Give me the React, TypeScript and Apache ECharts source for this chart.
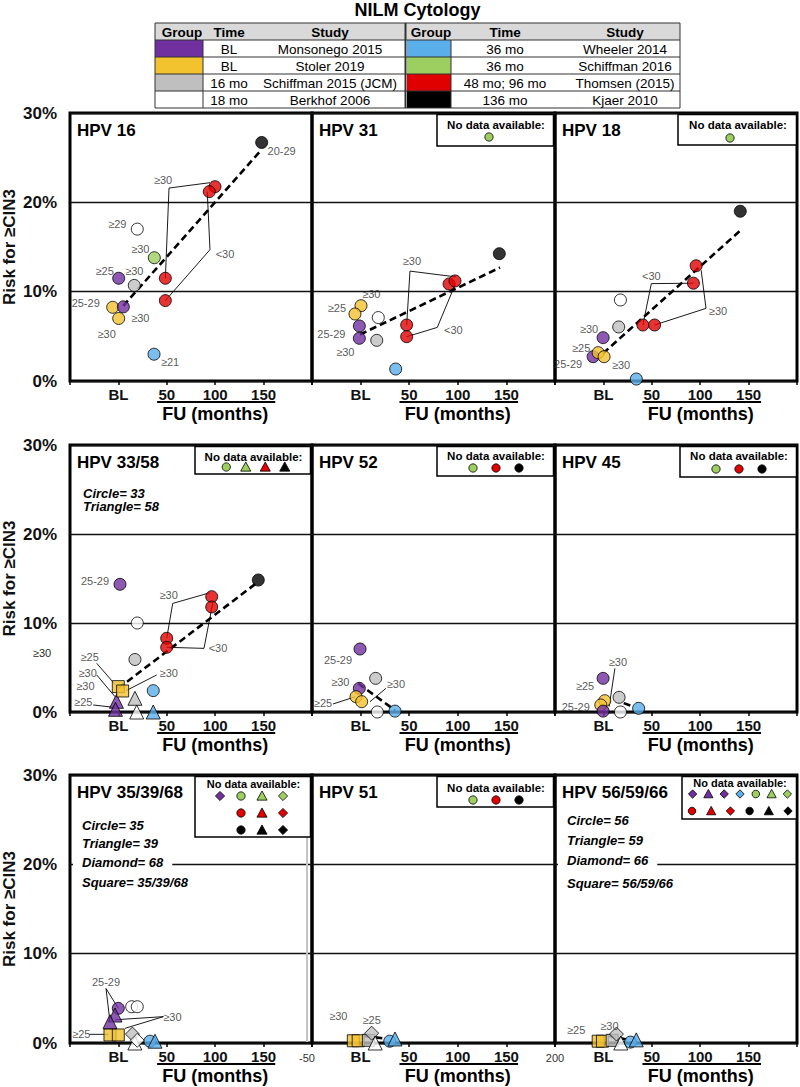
import React, { useEffect, useRef } from 'react';
import * as echarts from 'echarts';

const FONT = 'Arial, "Liberation Sans", Helvetica, sans-serif';

const GROUP_COLORS: Record<string, string> = {
  purple: '#7030a0',
  yellow: '#f3c22f',
  gray: '#bfbfbf',
  white: '#ffffff',
  blue: '#5aaeea',
  green: '#9ccf5f',
  red: '#e00000',
  black: '#000000',
};
const LABEL_COLOR = '#2a2a2a';

// ---------- table ----------
const tableTitle = 'NILM Cytology';
const tableHeaders = ['Group', 'Time', 'Study'];
const tableLeftGroups = ['purple', 'yellow', 'gray', 'white'];
const tableLeftTimes = ['BL', 'BL', '16 mo', '18 mo'];
const tableLeftStudies = ['Monsonego 2015', 'Stoler 2019', 'Schiffman 2015 (JCM)', 'Berkhof 2006'];
const tableRightGroups = ['blue', 'green', 'red', 'black'];
const tableRightTimes = ['36 mo', '36 mo', '48 mo; 96 mo', '136 mo'];
const tableRightStudies = ['Wheeler 2014', 'Schiffman 2016', 'Thomsen (2015)', 'Kjaer 2010'];

// ---------- axes ----------
const xTickLabels: Record<number, string> = { 0: 'BL', 50: '50', 100: '100', 150: '150' };
const xTitle = 'FU (months)';
const yTitle = 'Risk for ≥CIN3';

type Pt = [number, number, string, string, string]; // x, y, group, shape, label
type Leader = { path: [number, number][]; label: string; at: number };

// ---------- HPV 16 ----------
const hpv16Points: Pt[] = [
  [148, 26.7, 'black', 'circle', '20-29'],
  [99.8, 21.75, 'red', 'circle', ''],
  [93.9, 21.2, 'red', 'circle', ''],
  [19.5, 17.0, 'white', 'circle', '≥29'],
  [37.1, 13.8, 'green', 'circle', '≥30'],
  [0.3, 11.5, 'purple', 'circle', '≥25'],
  [16.4, 10.7, 'gray', 'circle', '≥30'],
  [48.5, 11.5, 'red', 'circle', ''],
  [48.5, 9.0, 'red', 'circle', ''],
  [-5.9, 8.25, 'yellow', 'circle', '25-29'],
  [5.1, 8.3, 'purple', 'circle', '≥30'],
  [0.3, 7.0, 'yellow', 'circle', '≥30'],
  [36.8, 3.0, 'blue', 'circle', '≥21'],
];
const hpv16LabelOffsets = [[20, 9], [0, 0], [0, 0], [-20, -5], [-14, -9], [-14, -7], [0, -14], [0, 0], [0, 0], [-27, -4], [17, 11], [-12, 16], [16, 8]];
const hpv16Trend: [number, number][] = [[5, 8.4], [146.3, 25.7]];
const hpv16Leaders: Leader[] = [
  { path: [[48.5, 11.5], [52.3, 21.6], [94.6, 22.2]], label: '≥30', at: 1 },
  { path: [[48.5, 9.0], [94.6, 14.7], [91.8, 21.2]], label: '<30', at: 1 },
];
const hpv16LeaderOffsets = [[-6, -8], [15, 4]];

// ---------- HPV 31 ----------
const hpv31Points: Pt[] = [
  [142.7, 14.25, 'black', 'circle', ''],
  [91, 10.86, 'red', 'circle', ''],
  [97.1, 11.2, 'red', 'circle', ''],
  [0.4, 8.43, 'yellow', 'circle', ''],
  [-5.8, 7.5, 'yellow', 'circle', '≥25'],
  [18.2, 7.1, 'white', 'circle', '≥30'],
  [-1.3, 6.16, 'purple', 'circle', '25-29'],
  [-1.3, 4.78, 'purple', 'circle', '≥30'],
  [16.6, 4.55, 'gray', 'circle', ''],
  [47.4, 6.27, 'red', 'circle', ''],
  [47.4, 4.96, 'red', 'circle', ''],
  [36.1, 1.34, 'blue', 'circle', ''],
];
const hpv31LabelOffsets = [[0, 0], [0, 0], [0, 0], [0, 0], [-18, -6], [-7, -24], [-28, 8], [-14, 14], [0, 0], [0, 0], [0, 0], [0, 0]];
const hpv31Trend: [number, number][] = [[-0.6, 5.2], [143.4, 12.7]];
const hpv31Leaders: Leader[] = [
  { path: [[47.4, 6.27], [50.8, 12.3], [98.1, 11.65]], label: '≥30', at: 1 },
  { path: [[47.4, 4.96], [78.9, 6.0], [97.1, 10.75]], label: '<30', at: 1 },
];
const hpv31LeaderOffsets = [[2, -10], [16, 3]];

// ---------- HPV 18 ----------
const hpv18Points: Pt[] = [
  [141.4, 19.0, 'black', 'circle', ''],
  [95.8, 12.9, 'red', 'circle', ''],
  [93, 10.95, 'red', 'circle', ''],
  [17.6, 9.07, 'white', 'circle', ''],
  [15.8, 6.05, 'gray', 'circle', ''],
  [40.8, 6.27, 'red', 'circle', ''],
  [52.9, 6.27, 'red', 'circle', ''],
  [-0.3, 4.85, 'purple', 'circle', '≥30'],
  [-10.6, 2.72, 'purple', 'circle', '25-29'],
  [-5.4, 3.17, 'yellow', 'circle', '≥25'],
  [0.7, 2.72, 'yellow', 'circle', '≥30'],
  [34, 0.22, 'blue', 'circle', ''],
];
const hpv18LabelOffsets = [[0, 0], [0, 0], [0, 0], [0, 0], [0, 0], [0, 0], [0, 0], [-14, -9], [-25, 7], [-17, -5], [17, 8], [0, 0]];
const hpv18Trend: [number, number][] = [[-0.3, 3.1], [142, 16.9]];
const hpv18Leaders: Leader[] = [
  { path: [[40.8, 6.27], [49.5, 10.9], [93, 10.95]], label: '<30', at: 1 },
  { path: [[52.9, 6.27], [106, 8.13], [101, 12.4]], label: '≥30', at: 1 },
];
const hpv18LeaderOffsets = [[0, -8], [12, 3]];

// ---------- HPV 33/58 ----------
const hpv3358Points: Pt[] = [
  [144.5, 14.83, 'black', 'circle', ''],
  [96.4, 12.96, 'red', 'circle', ''],
  [96.4, 11.8, 'red', 'circle', ''],
  [1.65, 14.35, 'purple', 'circle', '25-29'],
  [19.5, 10.0, 'white', 'circle', ''],
  [49.9, 8.28, 'red', 'circle', ''],
  [49.9, 7.27, 'red', 'circle', ''],
  [17.1, 5.9, 'gray', 'circle', ''],
  [36, 2.4, 'blue', 'circle', ''],
  [-2, 1.2, 'purple', 'triangle', '≥30'],
  [-3, 0.3, 'purple', 'triangle', ''],
  [17.1, 1.54, 'gray', 'triangle', ''],
  [18.9, 0, 'white', 'triangle', ''],
  [36, 0, 'blue', 'triangle', ''],
  [-0.1, 2.85, 'yellow', 'square', ''],
  [4.4, 2.36, 'yellow', 'square', ''],
];
const hpv3358LabelOffsets = [[0, 0], [0, 0], [0, 0], [-25, -3], [0, 0], [0, 0], [0, 0], [0, 0], [0, 0], [-31, -15], [0, 0], [0, 0], [0, 0], [0, 0], [0, 0], [0, 0]];
const hpv3358Trend: [number, number][] = [[-0.1, 2.66], [142.9, 14.5]];
const hpv3358Leaders: Leader[] = [
  { path: [[49.9, 8.28], [56.1, 12.2], [94.6, 13.4]], label: '≥30', at: 1 },
  { path: [[49.9, 7.27], [88.4, 7.15], [97.4, 12.2]], label: '<30', at: 1 },
  { path: [[-22.4, 5.47], [-3.5, 3.1]], label: '≥25', at: 0 },
  { path: [[39.6, 4.16], [7.9, 2.4]], label: '≥30', at: 0 },
  { path: [[-22.4, 4.16], [-3.5, 1.72]], label: '≥30', at: 0 },
  { path: [[-26, 0.79], [-5.3, 0.53]], label: '≥25', at: 0 },
];
const hpv3358LeaderOffsets = [[-4, -8], [14, 0], [-7, -6], [12, -2], [-9, -2], [-10, -3]];

// ---------- HPV 52 ----------
const hpv52Points: Pt[] = [
  [-0.6, 7.08, 'purple', 'circle', '25-29'],
  [15.5, 3.78, 'gray', 'circle', ''],
  [-1.3, 2.66, 'purple', 'circle', '≥30'],
  [-4.7, 1.72, 'yellow', 'circle', ''],
  [1.1, 1.16, 'yellow', 'circle', ''],
  [17.2, 0, 'white', 'circle', ''],
  [35.4, 0.1, 'blue', 'circle', ''],
];
const hpv52LabelOffsets = [[-22, 11], [0, 0], [-19, -6], [0, 0], [0, 0], [0, 0], [0, 0]];
const hpv52Trend: [number, number][] = [[-2.3, 3.2], [35.4, 0.2]];
const hpv52Leaders: Leader[] = [
  { path: [[-28.4, 0.9], [-5.8, 1.7]], label: '≥25', at: 0 },
  { path: [[26.1, 2.66], [9.7, 1.16]], label: '≥30', at: 0 },
];
const hpv52LeaderOffsets = [[-10, -1], [10, -4]];

// ---------- HPV 45 ----------
const hpv45Points: Pt[] = [
  [-0.3, 3.78, 'purple', 'circle', '≥25'],
  [16.2, 1.65, 'gray', 'circle', ''],
  [1.4, 1.27, 'yellow', 'circle', ''],
  [-2.7, 0.79, 'yellow', 'circle', '25-29'],
  [-0.3, 0.1, 'purple', 'circle', ''],
  [17.6, 0, 'white', 'circle', ''],
  [36.4, 0.41, 'blue', 'circle', ''],
];
const hpv45LabelOffsets = [[-18, 8], [0, 0], [0, 0], [-25, 2], [0, 0], [0, 0], [0, 0]];
const hpv45Trend: [number, number][] = [[21, 1.0], [31, 0.6]];
const hpv45Leaders: Leader[] = [
  { path: [[11.9, 4.9], [5.9, 0.6]], label: '≥30', at: 0 },
];
const hpv45LeaderOffsets = [[3, -6]];

// ---------- HPV 35/39/68 ----------
const hpv353968Points: Pt[] = [
  [-8.7, 0.9, 'yellow', 'square', ''],
  [-0.1, 0.9, 'yellow', 'square', ''],
  [-0.1, 3.88, 'purple', 'circle', ''],
  [-3.5, 3.13, 'purple', 'triangle', ''],
  [-8.7, 2.38, 'purple', 'triangle', ''],
  [13.7, 4.06, 'white', 'circle', ''],
  [19.5, 4.06, 'white', 'circle', ''],
  [14.5, 1.0, 'gray', 'diamond', ''],
  [17, 0, 'white', 'triangle', ''],
  [19.5, 0.3, 'white', 'diamond', ''],
  [32.6, 0.2, 'blue', 'circle', ''],
  [37.8, 0.2, 'blue', 'triangle', ''],
];
const hpv353968LabelOffsets = hpv353968Points.map(() => [0, 0]);
const hpv353968Leaders: Leader[] = [
  { path: [[-0.1, 3.88], [-12.8, 6.1], [-8.7, 2.38]], label: '25-29', at: 1 },
  { path: [[-3.5, 2.6], [46.5, 2.95], [6.8, 1.64]], label: '≥30', at: 1 },
  { path: [[-30, 0.97], [-10.4, 0.97]], label: '≥25', at: 0 },
];
const hpv353968LeaderOffsets = [[0, -7], [9, 0], [-8, 0]];

// ---------- HPV 51 ----------
const hpv51Points: Pt[] = [
  [-7.5, 0.25, 'yellow', 'square', '≥30'],
  [-2.5, 0.25, 'yellow', 'square', ''],
  [8, 0.3, 'gray', 'square', ''],
  [11.4, 1.1, 'gray', 'diamond', '≥25'],
  [15, 0, 'white', 'triangle', ''],
  [30, 0.2, 'blue', 'circle', ''],
  [35.4, 0.45, 'blue', 'triangle', ''],
];
const hpv51LabelOffsets = [[-15, -25], [0, 0], [0, 0], [0, -13], [0, 0], [0, 0], [0, 0]];
const hpv51Trend: [number, number][] = [[4, 0.8], [24, 0.5]];

// ---------- HPV 56/59/66 ----------
const hpv565966Points: Pt[] = [
  [-5.4, 0.2, 'yellow', 'square', '≥25'],
  [-1, 0.2, 'yellow', 'square', ''],
  [9, 0.3, 'gray', 'square', ''],
  [13.5, 1.0, 'gray', 'diamond', '≥30'],
  [18, 0, 'white', 'triangle', ''],
  [28, 0.1, 'blue', 'circle', ''],
  [34, 0.35, 'blue', 'triangle', ''],
];
const hpv565966LabelOffsets = [[-22, -11], [0, 0], [0, 0], [-7, -8], [0, 0], [0, 0], [0, 0]];
const hpv565966Trend: [number, number][] = [[6, 0.8], [24, 0.4]];

// ---------- "No data available" legends ----------
type Sym = [string, string] | null;
const hpv31NoData: Sym[][] = [[['green', 'circle']]];
const hpv18NoData: Sym[][] = [[['green', 'circle']]];
const hpv3358NoData: Sym[][] = [[['green', 'circle'], ['green', 'triangle'], ['red', 'triangle'], ['black', 'triangle']]];
const hpv52NoData: Sym[][] = [[['green', 'circle'], ['red', 'circle'], ['black', 'circle']]];
const hpv45NoData: Sym[][] = [[['green', 'circle'], ['red', 'circle'], ['black', 'circle']]];
const hpv353968NoData: Sym[][] = [
  [['purple', 'diamond'], ['green', 'circle'], ['green', 'triangle'], ['green', 'diamond']],
  [null, ['red', 'circle'], ['red', 'triangle'], ['red', 'diamond']],
  [null, ['black', 'circle'], ['black', 'triangle'], ['black', 'diamond']],
];
const hpv51NoData: Sym[][] = [[['green', 'circle'], ['red', 'circle'], ['black', 'circle']]];
const hpv565966NoData: Sym[][] = [
  [['purple', 'diamond'], ['purple', 'triangle'], ['purple', 'diamond'], ['blue', 'diamond'], ['green', 'circle'], ['green', 'triangle'], ['green', 'diamond']],
  [['red', 'circle'], ['red', 'triangle'], ['red', 'diamond'], ['black', 'circle'], ['black', 'triangle'], ['black', 'diamond']],
];
const noDataTitle = 'No data available:';

const hpv3358Notes = ['Circle= 33', 'Triangle= 58'];
const hpv353968Notes = ['Circle= 35', 'Triangle= 39', 'Diamond= 68', 'Square= 35/39/68'];
const hpv565966Notes = ['Circle= 56', 'Triangle= 59', 'Diamond= 66', 'Square= 56/59/66'];

const PANELS = [
  { title: 'HPV 16', points: hpv16Points, offsets: hpv16LabelOffsets, trend: hpv16Trend, leaders: hpv16Leaders, leaderOffsets: hpv16LeaderOffsets, noData: null, notes: [] as string[] },
  { title: 'HPV 31', points: hpv31Points, offsets: hpv31LabelOffsets, trend: hpv31Trend, leaders: hpv31Leaders, leaderOffsets: hpv31LeaderOffsets, noData: hpv31NoData, notes: [] },
  { title: 'HPV 18', points: hpv18Points, offsets: hpv18LabelOffsets, trend: hpv18Trend, leaders: hpv18Leaders, leaderOffsets: hpv18LeaderOffsets, noData: hpv18NoData, notes: [] },
  { title: 'HPV 33/58', points: hpv3358Points, offsets: hpv3358LabelOffsets, trend: hpv3358Trend, leaders: hpv3358Leaders, leaderOffsets: hpv3358LeaderOffsets, noData: hpv3358NoData, notes: hpv3358Notes },
  { title: 'HPV 52', points: hpv52Points, offsets: hpv52LabelOffsets, trend: hpv52Trend, leaders: hpv52Leaders, leaderOffsets: hpv52LeaderOffsets, noData: hpv52NoData, notes: [] },
  { title: 'HPV 45', points: hpv45Points, offsets: hpv45LabelOffsets, trend: hpv45Trend, leaders: hpv45Leaders, leaderOffsets: hpv45LeaderOffsets, noData: hpv45NoData, notes: [] },
  { title: 'HPV 35/39/68', points: hpv353968Points, offsets: hpv353968LabelOffsets, trend: null, leaders: hpv353968Leaders, leaderOffsets: hpv353968LeaderOffsets, noData: hpv353968NoData, notes: hpv353968Notes },
  { title: 'HPV 51', points: hpv51Points, offsets: hpv51LabelOffsets, trend: hpv51Trend, leaders: [] as Leader[], leaderOffsets: [], noData: hpv51NoData, notes: [] },
  { title: 'HPV 56/59/66', points: hpv565966Points, offsets: hpv565966LabelOffsets, trend: hpv565966Trend, leaders: [] as Leader[], leaderOffsets: [], noData: hpv565966NoData, notes: hpv565966Notes },
];

// ---------- layout ----------
const COL_LEFT = [70, 312, 555];
const COL_W = [242, 243, 243];
const ROW_TOP = [113, 445, 775];
const ROW_H = [268, 267, 268];

const NODATA_LAYOUT: any[] = [
  null,
  { w: 118, h: 33, textDy: 12, rows: [24], spacing: [20], fs: 11.5, dx: -7 },
  { w: 120, h: 32, textDy: 12, rows: [25], spacing: [20], fs: 11.5, dx: -8 },
  { w: 117, h: 29, textDy: 12, rows: [22], spacing: [19.5], fs: 11.5, dx: 2 },
  { w: 118, h: 31, textDy: 11, rows: [23], spacing: [23], fs: 11.5, dx: 0 },
  { w: 118, h: 32, textDy: 11, rows: [24], spacing: [23], fs: 11.5, dx: 0 },
  { w: 117, h: 62, textDy: 9, rows: [21, 38, 55], spacing: [21, 21, 21], fs: 11, dx: -2 },
  { w: 118, h: 32, textDy: 13, rows: [25], spacing: [23], fs: 11.5, dx: 0 },
  { w: 116, h: 44, textDy: 8, rows: [19, 36], spacing: [15.8, 19.2], fs: 11, dx: 0 },
];
const NOTE_LAYOUT: any[] = [
  null, null, null,
  { x: 13, dys: [48, 61], bg: -1 },
  null, null,
  { x: 12, dys: [50, 68, 87, 107], bg: 2 },
  null,
  { x: 12, dys: [45, 65, 85, 108], bg: 2 },
];

const SYMBOL_MAP: Record<string, string> = { circle: 'circle', triangle: 'triangle', square: 'rect', diamond: 'diamond' };
const SYMBOL_SIZE: Record<string, number> = { circle: 12, triangle: 14, square: 12, diamond: 14 };

function font(size: number, weight = 'normal', style = 'normal') {
  return `${style} ${weight} ${size}px ${FONT}`;
}

function txt(x: number, y: number, text: string, f: string, align = 'center', vAlign = 'middle', extra: any = {}) {
  return {
    type: 'text',
    x,
    y,
    z: 100,
    style: {
      text,
      font: f,
      fill: '#000',
      align,
      verticalAlign: vAlign,
      textAlign: align,
      textVerticalAlign: vAlign,
      ...extra,
    },
  };
}

function lineEl(x1: number, y1: number, x2: number, y2: number, color = '#000', w = 1, z = 90) {
  return { type: 'line', z, shape: { x1, y1, x2, y2 }, style: { stroke: color, lineWidth: w } };
}

function legendSym(cx: number, cy: number, group: string, shape: string, s: number) {
  const fill = GROUP_COLORS[group];
  const st = { fill, stroke: '#000', lineWidth: 0.8 };
  if (shape === 'circle') return { type: 'circle', z: 101, shape: { cx, cy, r: s * 0.9 }, style: st };
  if (shape === 'triangle')
    return { type: 'polygon', z: 101, shape: { points: [[cx, cy - s * 1.1], [cx + s * 1.1, cy + s * 0.9], [cx - s * 1.1, cy + s * 0.9]] }, style: st };
  return { type: 'polygon', z: 101, shape: { points: [[cx, cy - s], [cx + s, cy], [cx, cy + s], [cx - s, cy]] }, style: st };
}

function labelStyle(text: string, offset: number[]) {
  return {
    show: true,
    formatter: text,
    offset,
    position: 'inside',
    color: LABEL_COLOR,
    fontSize: 11,
    fontFamily: FONT,
    textBorderWidth: 0,
  };
}

function buildOption() {
  const grid: any[] = [];
  const xAxis: any[] = [];
  const yAxis: any[] = [];
  const series: any[] = [];
  const graphic: any[] = [];

  PANELS.forEach((p, i) => {
    const r = Math.floor(i / 3);
    const c = i % 3;
    const left = COL_LEFT[c];
    const width = COL_W[c];
    const top = ROW_TOP[r];
    const height = ROW_H[r];
    const bottom = top + height;
    const right = left + width;

    grid.push({ left, top, width, height, show: true, borderColor: '#000', borderWidth: 3, backgroundColor: 'rgba(0,0,0,0)' });
    xAxis.push({
      type: 'value',
      gridIndex: i,
      min: -50,
      max: 200,
      interval: 50,
      axisLine: { show: false },
      axisTick: { show: true, length: 4, lineStyle: { color: '#000', width: 1.5 } },
      splitLine: { show: false },
      axisLabel: {
        margin: 6,
        formatter: (v: number) => xTickLabels[v] ?? '',
        fontWeight: 'bold',
        fontSize: 15,
        color: '#111',
        fontFamily: FONT,
      },
    });
    yAxis.push({
      type: 'value',
      gridIndex: i,
      min: 0,
      max: 30,
      interval: 10,
      axisLine: { show: false },
      axisTick: { show: false },
      splitLine: { show: true, lineStyle: { color: '#111', width: 1.3 } },
      axisLabel: {
        show: c === 0,
        margin: 13,
        formatter: (v: number) => v + '%',
        fontWeight: 'bold',
        fontSize: 17,
        color: '#111',
        fontFamily: FONT,
      },
      name: c === 0 ? yTitle : '',
      nameLocation: 'middle',
      nameRotate: 90,
      nameGap: 52,
      nameTextStyle: { fontWeight: 'bold', fontSize: 17, color: '#111', fontFamily: FONT },
    });

    if (p.trend) {
      series.push({
        type: 'line', xAxisIndex: i, yAxisIndex: i, data: p.trend, symbol: 'none', silent: true, z: 3,
        lineStyle: { color: '#000', width: 2.6, type: [7, 4] },
      });
    }
    p.leaders.forEach((l) => {
      series.push({
        type: 'line', xAxisIndex: i, yAxisIndex: i, data: l.path, symbol: 'none', silent: true, z: 3,
        lineStyle: { color: '#000', width: 0.9 },
      });
    });
    series.push({
      type: 'scatter', xAxisIndex: i, yAxisIndex: i, clip: false, z: 4, silent: true,
      data: p.points.map((pt) => ({
        value: [pt[0], pt[1]],
        symbol: SYMBOL_MAP[pt[3]],
        symbolSize: SYMBOL_SIZE[pt[3]],
        itemStyle: { color: GROUP_COLORS[pt[2]], borderColor: '#000', borderWidth: 1 },
      })),
    });
    const labelData: any[] = [];
    p.points.forEach((pt, k) => {
      if (pt[4]) labelData.push({ value: [pt[0], pt[1]], label: labelStyle(pt[4], p.offsets[k]) });
    });
    p.leaders.forEach((l, k) => {
      labelData.push({ value: l.path[l.at], label: labelStyle(l.label, (p.leaderOffsets as number[][])[k]) });
    });
    series.push({
      type: 'scatter', xAxisIndex: i, yAxisIndex: i, clip: false, z: 6, silent: true,
      symbolSize: 1, itemStyle: { color: 'rgba(255,255,255,0)' },
      label: { show: true, position: 'inside', fontSize: 11, color: LABEL_COLOR, fontFamily: FONT },
      data: labelData,
    });

    // panel title
    graphic.push(txt(left + 7, top + 17, p.title, font(17, 'bold'), 'left'));
    // FU label with overline
    graphic.push(lineEl(left + (90 / 250) * width, bottom + 21, left + (212 / 250) * width, bottom + 21, '#000', 2));
    graphic.push(txt(left + (150 / 250) * width, bottom + 33, xTitle, font(18, 'bold')));

    // no data legend box
    const nd = NODATA_LAYOUT[i];
    if (p.noData && nd) {
      const bx = right - nd.w;
      graphic.push({ type: 'rect', z: 95, shape: { x: bx, y: top + 1.5, width: nd.w - 1.5, height: nd.h - 1.5 }, style: { fill: '#fff', stroke: '#000', lineWidth: 1.5 } });
      const cx = bx + nd.w / 2;
      graphic.push(txt(cx, top + nd.textDy, noDataTitle, font(nd.fs, 'bold')));
      p.noData.forEach((row, ri) => {
        const sp = nd.spacing[ri];
        const n = row.length;
        row.forEach((s, si) => {
          if (!s) return;
          const sx = cx + nd.dx + (si - (n - 1) / 2) * sp;
          graphic.push(legendSym(sx, top + nd.rows[ri], s[0], s[1], i === 8 ? 4.2 : 4.6));
        });
      });
    }
    // notes
    const nl = NOTE_LAYOUT[i];
    if (nl && p.notes.length) {
      p.notes.forEach((n, k) => {
        const extra = k === nl.bg ? { backgroundColor: '#fff', padding: [1, 9, 1, 9] } : {};
        const xOff = k === nl.bg ? -9 : 0;
        graphic.push(txt(left + nl.x + xOff, top + nl.dys[k], n, font(13, 'bold', 'italic'), 'left', 'middle', extra));
      });
    }
  });

  // stray annotations
  graphic.push(txt(42, 653, '≥30', font(11), 'center', 'middle', { fill: LABEL_COLOR }));
  graphic.push(txt(307, 1058, '-50', font(11), 'center', 'middle', { fill: '#333' }));
  graphic.push(txt(555, 1058, '200', font(11), 'center', 'middle', { fill: '#333' }));
  graphic.push(lineEl(307, 777, 307, 1042, '#c4c4c4', 2, 1));

  // ---------- table ----------
  const tL = 155, tR = 680, tT = 23, rowH = 17;
  const colG1 = [155, 203], colG2 = [407, 451];
  const xT1 = 229, xS1 = 330, xT2 = 505, xS2 = 625;
  graphic.push(txt((tL + tR) / 2, 10, tableTitle, font(18, 'bold')));
  graphic.push({ type: 'rect', z: 80, shape: { x: tL, y: tT, width: tR - tL, height: rowH }, style: { fill: '#d9d9d9' } });
  for (let k = 0; k < 4; k++) {
    const y = tT + rowH * (k + 1);
    graphic.push({ type: 'rect', z: 81, shape: { x: colG1[0], y, width: colG1[1] - colG1[0], height: rowH }, style: { fill: GROUP_COLORS[tableLeftGroups[k]] } });
    graphic.push({ type: 'rect', z: 81, shape: { x: colG2[0], y, width: colG2[1] - colG2[0], height: rowH }, style: { fill: GROUP_COLORS[tableRightGroups[k]] } });
    graphic.push(txt(xT1, y + rowH / 2 + 0.5, tableLeftTimes[k], font(13.5)));
    graphic.push(txt(xS1, y + rowH / 2 + 0.5, tableLeftStudies[k], font(13.5)));
    graphic.push(txt(xT2, y + rowH / 2 + 0.5, tableRightTimes[k], font(13.5)));
    graphic.push(txt(xS2, y + rowH / 2 + 0.5, tableRightStudies[k], font(13.5)));
  }
  const hy = tT + rowH / 2 + 0.5;
  graphic.push(txt((colG1[0] + colG1[1]) / 2 + 3, hy, tableHeaders[0], font(13.5, 'bold')));
  graphic.push(txt(xT1, hy, tableHeaders[1], font(13.5, 'bold')));
  graphic.push(txt(xS1, hy, tableHeaders[2], font(13.5, 'bold')));
  graphic.push(txt((colG2[0] + colG2[1]) / 2 + 2, hy, tableHeaders[0], font(13.5, 'bold')));
  graphic.push(txt(xT2, hy, tableHeaders[1], font(13.5, 'bold')));
  graphic.push(txt(xS2, hy, tableHeaders[2], font(13.5, 'bold')));
  for (let k = 0; k <= 5; k++) {
    graphic.push(lineEl(tL, tT + rowH * k, tR, tT + rowH * k, '#333', 1, 85));
  }
  graphic.push(lineEl(tL, tT, tL, tT + rowH * 5, '#333', 1, 85));
  graphic.push(lineEl(tR, tT, tR, tT + rowH * 5, '#333', 1, 85));
  graphic.push(lineEl(colG1[1], tT + rowH, colG1[1], tT + rowH * 5, '#333', 1, 85));
  graphic.push(lineEl(405.5, tT, 405.5, tT + rowH * 5, '#333', 2, 85));
  graphic.push(lineEl(colG2[1], tT + rowH, colG2[1], tT + rowH * 5, '#333', 1, 85));

  return {
    animation: false,
    backgroundColor: '#fff',
    textStyle: { fontFamily: FONT },
    grid,
    xAxis,
    yAxis,
    series,
    graphic: { elements: graphic },
  };
}

export default function App() {
  const ref = useRef<HTMLDivElement>(null);
  useEffect(() => {
    const chart = echarts.init(ref.current!, null, { renderer: 'svg' });
    chart.setOption(buildOption() as any);
    return () => chart.dispose();
  }, []);
  return <div ref={ref} style={{ position: 'absolute', left: 0, top: 0, width: 800, height: 1087, background: '#fff' }} />;
}
